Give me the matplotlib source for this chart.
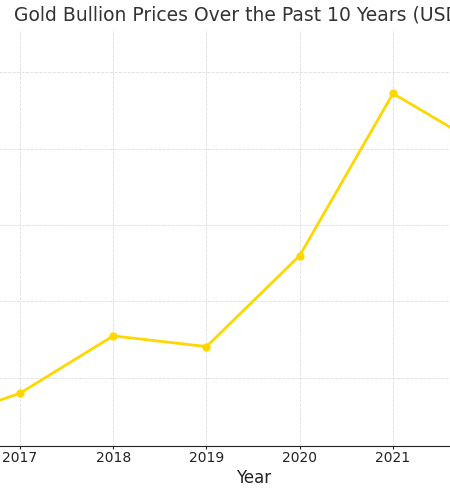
import matplotlib
matplotlib.use('Agg')
import matplotlib.pyplot as plt

# jaetun kuvan data: vuodet ja hinnat (USD / unssi), luettu kuvasta
years = [2015, 2016, 2017, 2018, 2019, 2020, 2021, 2022, 2023, 2024]
prices = [1260, 1238, 1280, 1355, 1341, 1460, 1672, 1600, 1650, 1730]
year_ticks = years

fig = plt.figure(figsize=(4.5, 4.95), dpi=100)
# akselit menevät kuvan reunojen yli, koska alkuperäinen on rajattu
ax = fig.add_axes([-208.5 / 450, 49 / 495, 923.2 / 450, 416 / 495])

ax.plot(years, prices, color='gold', linewidth=2, marker='o', markersize=5)

ax.set_xlim(2014.55, 2024.45)
ax.set_ylim(1211, 1755)
ax.set_xticks(year_ticks)
ax.set_xticklabels([str(y) for y in year_ticks], fontsize=10, color='#222222')
ax.tick_params(axis='x', length=2, pad=1.5, color='#222222')
ax.grid(True, linestyle='--', linewidth=0.6, color='#dddddd')

ax.set_title('Gold Bullion Prices Over the Past 10 Years (USD)', fontsize=13.5,
             color='#333333', pad=6.5, x=0.487)
ax.set_xlabel('Year', fontsize=12, color='#222222', labelpad=3)
ax.set_ylabel('Price (USD)')

for side in ['top', 'right']:
    ax.spines[side].set_visible(False)
ax.spines['bottom'].set_color('#222222')

fig.savefig('out.png', dpi=100)
